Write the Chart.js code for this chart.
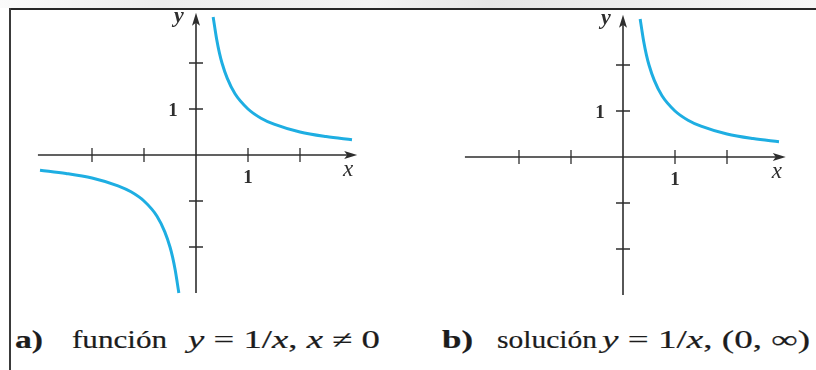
<!DOCTYPE html>
<html>
<head>
<meta charset="utf-8">
<script src="https://cdn.jsdelivr.net/npm/chart.js@4"></script>
<style>
  html, body { margin: 0; padding: 0; background: #fff; }
  #page { position: relative; width: 816px; height: 370px; overflow: hidden; background: #fff; }
  #page canvas { position: absolute; top: 0; }
  .band { position: absolute; left: 0; top: 0; width: 816px; height: 8px;
          background: linear-gradient(90deg, #fafafa 0%, #ececec 20%, #f3f3f3 45%, #e6e6e6 60%, #eeeeee 80%, #f6f6f6 100%); }
  .frame-top { position: absolute; left: 9px; top: 8px; width: 807px; height: 2px; background: #262626; }
  .frame-left { position: absolute; left: 9px; top: 8px; width: 2px; height: 362px; background: #3a3a3a; }
  .cap { position: absolute; top: 327px; font-family: 'Liberation Serif', 'Times New Roman', serif;
         font-size: 25px; line-height: 1; color: #1c1c1c; white-space: nowrap; transform-origin: 0 0;
         -webkit-text-stroke: 0.2px #1c1c1c; }
  .cap.bold { font-weight: bold; }
</style>
</head>
<body>
<div id="page">
  <div class="band"></div>
  <div class="frame-top"></div>
  <div class="frame-left"></div>
  <canvas id="chartA" width="408" height="300" style="left:0"></canvas>
  <canvas id="chartB" width="408" height="300" style="left:408px"></canvas>

  <span class="cap bold" style="left:15px" data-w="28">a)</span>
  <span class="cap" style="left:72px" data-w="95">función</span>
  <span class="cap" style="left:188px" data-w="192"><i>y</i> = 1/<i>x</i>, <i>x</i> ≠ 0</span>
  <span class="cap bold" style="left:442px" data-w="31">b)</span>
  <span class="cap" style="left:497px" data-w="100">solución</span>
  <span class="cap" style="left:602px" data-w="208"><i>y</i> = 1/<i>x</i>, (0, ∞)</span>
</div>

<script>
// tick marks on both axes; only the unit tick gets a number
const xTicks = [-2, -1, 1, 2];
const yTicks = [-2, -1, 1, 2];
const labelledTicks = ['1'];

// how far each axis line runs (data units)
const xAxisSpanA = [-3.04, 3.1];
const xAxisSpanB = [-3.04, 3.13];
const yAxisSpan = [-3.0, 3.09];

// y = 1/x, right branch (x > 0)
const xRight = [0.33, 0.36, 0.4, 0.45, 0.5, 0.6, 0.75, 1, 1.25, 1.5, 2, 2.5, 3];
const yRight = [3.0, 2.78, 2.5, 2.22, 2.0, 1.67, 1.33, 1.0, 0.8, 0.67, 0.5, 0.4, 0.33];

// y = 1/x, left branch (x < 0), only in the first plot
const xLeft = [-3, -2.5, -2, -1.5, -1.25, -1, -0.75, -0.6, -0.5, -0.45, -0.4, -0.36, -0.33];
const yLeft = [-0.33, -0.4, -0.5, -0.67, -0.8, -1.0, -1.33, -1.67, -2.0, -2.22, -2.5, -2.78, -3.0];

const curveColor = '#1eaee2';
const inkColor = '#2e2e2e';

function toPoints(xs, ys) {
  return xs.map((x, i) => ({ x: x, y: ys[i] }));
}

function branch(xs, ys) {
  return {
    data: toPoints(xs, ys),
    showLine: true,
    borderColor: curveColor,
    borderWidth: 3,
    pointRadius: 0,
    cubicInterpolationMode: 'monotone',
    clip: false
  };
}

// axes through the origin with arrow heads and crossing tick marks
const originAxes = {
  id: 'originAxes',
  beforeDatasetsDraw(chart, args, opts) {
    const { ctx, scales: { x, y } } = chart;
    const x0 = x.getPixelForValue(0);
    const y0 = y.getPixelForValue(0);
    const xl = x.getPixelForValue(opts.xSpan[0]);
    const xr = x.getPixelForValue(opts.xSpan[1]);
    const yb = y.getPixelForValue(opts.ySpan[0]);
    const yt = y.getPixelForValue(opts.ySpan[1]);

    ctx.save();
    ctx.strokeStyle = inkColor;
    ctx.fillStyle = inkColor;
    ctx.lineWidth = 1.6;

    ctx.beginPath();
    ctx.moveTo(xl, y0); ctx.lineTo(xr - 6, y0);
    ctx.moveTo(x0, yb); ctx.lineTo(x0, yt + 6);
    ctx.stroke();

    // arrow heads
    ctx.beginPath();
    ctx.moveTo(xr, y0); ctx.lineTo(xr - 13, y0 - 4); ctx.lineTo(xr - 10, y0); ctx.lineTo(xr - 13, y0 + 4);
    ctx.closePath(); ctx.fill();
    ctx.beginPath();
    ctx.moveTo(x0, yt); ctx.lineTo(x0 - 4, yt + 13); ctx.lineTo(x0, yt + 10); ctx.lineTo(x0 + 4, yt + 13);
    ctx.closePath(); ctx.fill();

    // tick marks
    ctx.lineWidth = 1.3;
    ctx.beginPath();
    xTicks.forEach(v => {
      const px = x.getPixelForValue(v);
      ctx.moveTo(px, y0 - 7); ctx.lineTo(px, y0 + 7);
    });
    yTicks.forEach(v => {
      const py = y.getPixelForValue(v);
      ctx.moveTo(x0 - 7, py); ctx.lineTo(x0 + 7, py);
    });
    ctx.stroke();

    // tick numbers
    ctx.font = 'bold 19px "Liberation Serif", serif';
    ctx.textAlign = 'center';
    ctx.textBaseline = 'middle';
    labelledTicks.forEach(t => {
      const v = Number(t);
      ctx.fillText(t, x0 - 23, y.getPixelForValue(v) + 2);
      ctx.fillText(t, x.getPixelForValue(v), y0 + 23);
    });

    // axis names
    ctx.font = 'italic bold 22px "Liberation Serif", serif';
    ctx.fillText('y', x0 - 17, yt + 3);
    ctx.font = 'italic 23px "Liberation Serif", serif';
    ctx.fillText('x', xr - 9, y0 + 15);
    ctx.restore();
  }
};

function makeChart(id, datasets, bounds, xSpan) {
  return new Chart(document.getElementById(id), {
    type: 'scatter',
    data: { datasets: datasets },
    options: {
      responsive: false,
      animation: false,
      layout: { padding: 0 },
      scales: {
        x: { type: 'linear', display: false, min: bounds.xMin, max: bounds.xMax },
        y: { type: 'linear', display: false, min: bounds.yMin, max: bounds.yMax }
      },
      plugins: {
        legend: { display: false },
        tooltip: { enabled: false },
        originAxes: { xSpan: xSpan, ySpan: yAxisSpan }
      }
    },
    plugins: [originAxes]
  });
}

// a) both branches
makeChart('chartA',
  [branch(xRight, yRight), branch(xLeft, yLeft)],
  { xMin: -196 / 52, xMax: 212 / 52, yMin: -145 / 46, yMax: 155 / 46 },
  xAxisSpanA);

// b) only x > 0
makeChart('chartB',
  [branch(xRight, yRight)],
  { xMin: -215 / 52, xMax: 193 / 52, yMin: -143 / 46, yMax: 157 / 46 },
  xAxisSpanB);

// stretch caption pieces to their widths
document.querySelectorAll('.cap').forEach(el => {
  const w = Number(el.dataset.w);
  const actual = el.getBoundingClientRect().width;
  el.style.transform = 'scaleX(' + (w / actual) + ')';
});
</script>
</body>
</html>
